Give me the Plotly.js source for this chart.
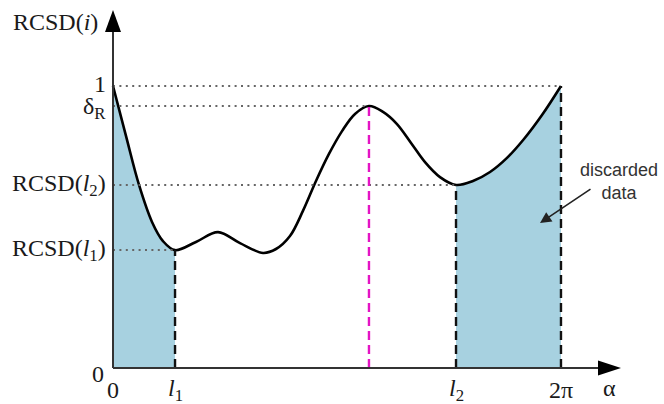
<!DOCTYPE html>
<html><head><meta charset="utf-8">
<script src="https://cdn.plot.ly/plotly-3.0.1.min.js"></script>
<style>html,body{margin:0;padding:0;background:#fff}</style>
</head><body><div id="chart" style="width:664px;height:404px"></div>
<script>
// ---- data ----
const alpha = [0, 0.182, 0.365, 0.547, 0.701, 0.870, 1.164, 1.473, 1.781, 2.104, 2.286, 2.482, 2.664, 2.847, 3.029, 3.212, 3.394, 3.590, 3.787, 3.983, 4.180, 4.376, 4.586, 4.811, 5.049, 5.288, 5.526, 5.764, 6.017, 6.283];
const rcsd  = [1.000, 0.823, 0.649, 0.518, 0.450, 0.418, 0.447, 0.482, 0.443, 0.408, 0.422, 0.468, 0.557, 0.663, 0.759, 0.840, 0.901, 0.929, 0.908, 0.865, 0.798, 0.730, 0.677, 0.649, 0.663, 0.695, 0.745, 0.812, 0.897, 1.000];
const l1 = 0.870, l2 = 4.811, alphaPeak = 3.590, twoPi = 6.283;
const rcsdL1 = 0.418, rcsdL2 = 0.649, deltaR = 0.929, rcsdOne = 1.0;
const yTickVals = [rcsdOne, deltaR, rcsdL2, rcsdL1];
const yTickText = ['1', 'δ<sub>R</sub>', 'RCSD(<i>l</i><sub>2</sub>)', 'RCSD(<i>l</i><sub>1</sub>)'];
const xTickVals = [0, l1, l2, twoPi];
const xTickText = ['0', '<i>l</i><sub>1</sub>', '<i>l</i><sub>2</sub>', '2π'];
const yAxisTitle = 'RCSD(<i>i</i>)';
const xAxisTitle = 'α';
const noteText = 'discarded<br>data';

// ---- geometry of the sketch ----
const W = 664, H = 404, mL = 80, mR = 31, mT = 0, mB = 14;
const ppx = 71.3, ppy = 282;            // pixels per data unit
const x0px = 113, y0px = 368;           // where the origin sits
const xMin = -(x0px - mL) / ppx, xMax = xMin + (W - mL - mR) / ppx;
const yMin = -(H - mB - y0px) / ppy, yMax = yMin + (H - mT - mB) / ppy;
const xTip = 7.125, yTip = 1.2695;      // axis arrow tips

const i1 = alpha.indexOf(l1), i2 = alpha.indexOf(l2);
const fillColor = '#a7d1e0';
const serif = {family: 'Liberation Serif, Times New Roman, serif', size: 24, color: '#1a1a1a'};

const traces = [
  {x: alpha.slice(0, i1 + 1), y: rcsd.slice(0, i1 + 1), mode: 'lines', fill: 'tozeroy', fillcolor: fillColor,
   line: {width: 0, shape: 'spline', color: fillColor}, hoverinfo: 'skip'},
  {x: alpha.slice(i2), y: rcsd.slice(i2), mode: 'lines', fill: 'tozeroy', fillcolor: fillColor,
   line: {width: 0, shape: 'spline', color: fillColor}, hoverinfo: 'skip'},
  {x: alpha, y: rcsd, mode: 'lines', line: {color: '#000', width: 2.6, shape: 'spline'}, hoverinfo: 'skip'}
];

const dotted = {color: '#666', width: 2, dash: '2px,4.4px'};
const dashed = {color: '#111', width: 2.4, dash: '9px,5px'};
const L = (xa, xb, ya, yb, line) => ({type: 'line', xref: 'x', yref: 'y', x0: xa, x1: xb, y0: ya, y1: yb, line: line});
const hx = 23 / ppx, hw = 7.5 / ppy, vy = 22 / ppy, vw = 8 / ppx;
const shapes = [
  L(0, twoPi, rcsdOne, rcsdOne, dotted),
  L(0, alphaPeak, deltaR, deltaR, dotted),
  L(0, l2, rcsdL2, rcsdL2, dotted),
  L(0, l1, rcsdL1, rcsdL1, dotted),
  L(l1, l1, 0, rcsdL1, dashed),
  L(l2, l2, 0, rcsdL2, dashed),
  L(twoPi, twoPi, 0, rcsdOne, dashed),
  L(alphaPeak, alphaPeak, 0, deltaR, {color: '#e414c4', width: 2.4, dash: '9px,5px'}),
  L(0, xTip - hx * 0.8, 0, 0, {color: '#333', width: 2}),
  L(0, 0, 0, yTip - vy * 0.8, {color: '#333', width: 2}),
  {type: 'path', xref: 'x', yref: 'y', fillcolor: '#000', line: {width: 0},
   path: `M${xTip},0 L${xTip - hx},${hw} L${xTip - hx},${-hw} Z`},
  {type: 'path', xref: 'x', yref: 'y', fillcolor: '#000', line: {width: 0},
   path: `M0,${yTip} L${-vw},${yTip - vy} L${vw},${yTip - vy} Z`}
];

const yShifts = [2, -2, 0, 0];
const annotations = [];
yTickVals.forEach((v, k) => annotations.push({x: 0, y: v, xref: 'x', yref: 'y', text: yTickText[k], showarrow: false,
  xanchor: 'right', yanchor: 'middle', xshift: -5, yshift: yShifts[k], font: serif}));
annotations.push({x: 0, y: 0, xref: 'x', yref: 'y', text: '0', showarrow: false, xanchor: 'right', yanchor: 'middle', xshift: -7, yshift: -6, font: serif});
xTickVals.forEach((v, k) => annotations.push({x: v, y: 0, xref: 'x', yref: 'y', text: xTickText[k], showarrow: false,
  xanchor: 'center', yanchor: 'middle', yshift: -22, font: serif}));
annotations.push({x: 6.97, y: 0, xref: 'x', yref: 'y', text: xAxisTitle, showarrow: false, xanchor: 'center', yanchor: 'middle', yshift: -20, font: serif});
annotations.push({x: 0, y: 1.227, xref: 'x', yref: 'y', text: yAxisTitle, showarrow: false, xanchor: 'right', yanchor: 'middle', xshift: -13, font: serif});
annotations.push({x: 7.097, y: 0.66, xref: 'x', yref: 'y', text: noteText, showarrow: false, xanchor: 'center', yanchor: 'middle',
  font: {family: 'Liberation Sans, Arial, sans-serif', size: 18, color: '#333'}});
annotations.push({x: 5.989, y: 0.514, ax: 6.718, ay: 0.638, xref: 'x', yref: 'y', axref: 'x', ayref: 'y', text: '', showarrow: true,
  arrowhead: 2, arrowsize: 1.4, arrowwidth: 1.6, arrowcolor: '#222'});

const layout = {
  width: W, height: H,
  margin: {l: mL, r: mR, t: mT, b: mB},
  paper_bgcolor: '#fff', plot_bgcolor: '#fff',
  showlegend: false,
  xaxis: {range: [xMin, xMax], visible: false, fixedrange: true},
  yaxis: {range: [yMin, yMax], visible: false, fixedrange: true},
  shapes: shapes, annotations: annotations
};
Plotly.newPlot('chart', traces, layout, {staticPlot: true, displayModeBar: false});
</script></body></html>
